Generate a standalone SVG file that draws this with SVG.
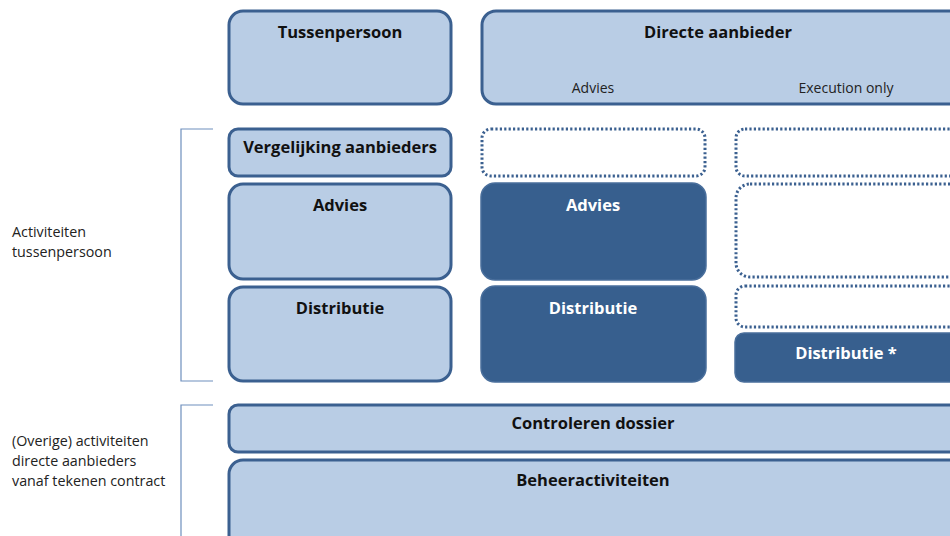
<svg xmlns="http://www.w3.org/2000/svg" width="950" height="536" viewBox="0 0 950 536">
<style>
.lb{fill:#b9cde5;stroke:#3b6090;stroke-width:3}
.dk{fill:#375f8e;stroke:#4a6f9c;stroke-width:1.5}
.dt{fill:#fff;stroke:#3b6090;stroke-width:3;stroke-dasharray:2.2 2.2}
.br{fill:none;stroke:#6e8fbd;stroke-width:1.2}
text{font-family:"Open Sans","Liberation Sans",sans-serif}
.t{font-size:16.5px;font-weight:bold;fill:#111;text-anchor:middle}
.w{font-size:16.5px;font-weight:bold;fill:#fff;text-anchor:middle}
.s{font-size:14px;fill:#222;text-anchor:middle}
.l{font-size:14.3px;fill:#222}
</style>
<rect width="950" height="536" fill="#fff"/>
<g id="connectors">
<path class="br" d="M213,129 H181 V381 H213"/>
<path class="br" d="M213,405 H181 V540"/>
</g>
<g id="label-tussenpersoon"><text class="l" x="12" y="237">Activiteiten</text><text class="l" x="12" y="257">tussenpersoon</text></g>
<g id="label-direct"><text class="l" x="12" y="446">(Overige) activiteiten</text><text class="l" x="12" y="466">directe aanbieders</text><text class="l" x="12" y="486">vanaf tekenen contract</text></g>
<g id="tussenpersoon"><rect class="lb" x="229" y="11" width="222" height="93" rx="14"/><text class="t" x="340" y="38">Tussenpersoon</text></g>
<g id="directe-aanbieder"><rect class="lb" x="482" y="11" width="490" height="93" rx="14"/><text class="t" x="718" y="38">Directe aanbieder</text><text class="s" x="593" y="93">Advies</text><text class="s" x="846" y="93">Execution only</text></g>
<g id="vergelijking"><rect class="lb" x="229" y="129" width="222" height="47" rx="9"/><text class="t" x="340" y="153">Vergelijking aanbieders</text></g>
<g id="dot1"><rect class="dt" x="482" y="129" width="223" height="47" rx="9"/></g>
<g id="dot2"><rect class="dt" x="736" y="129" width="240" height="47" rx="9"/></g>
<g id="advies1"><rect class="lb" x="229" y="184" width="222" height="95" rx="14"/><text class="t" x="340" y="211">Advies</text></g>
<g id="advies2"><rect class="dk" x="481" y="183" width="225" height="97" rx="14"/><text class="w" x="593" y="211">Advies</text></g>
<g id="dot3"><rect class="dt" x="736" y="184" width="240" height="93" rx="14"/></g>
<g id="distributie1"><rect class="lb" x="229" y="287" width="222" height="94" rx="14"/><text class="t" x="340" y="314">Distributie</text></g>
<g id="distributie2"><rect class="dk" x="481" y="286" width="225" height="96" rx="14"/><text class="w" x="593" y="314">Distributie</text></g>
<g id="dot4"><rect class="dt" x="736" y="286" width="240" height="41" rx="9"/></g>
<g id="distributie3"><rect class="dk" x="735" y="333" width="241" height="49" rx="9"/><text class="w" x="846" y="359">Distributie *</text></g>
<g id="controleren"><rect class="lb" x="229" y="405" width="747" height="47" rx="9"/><text class="t" x="593" y="429">Controleren dossier</text></g>
<g id="beheer"><rect class="lb" x="229" y="460" width="747" height="90" rx="14"/><text class="t" x="593" y="486">Beheeractiviteiten</text></g>
</svg>
